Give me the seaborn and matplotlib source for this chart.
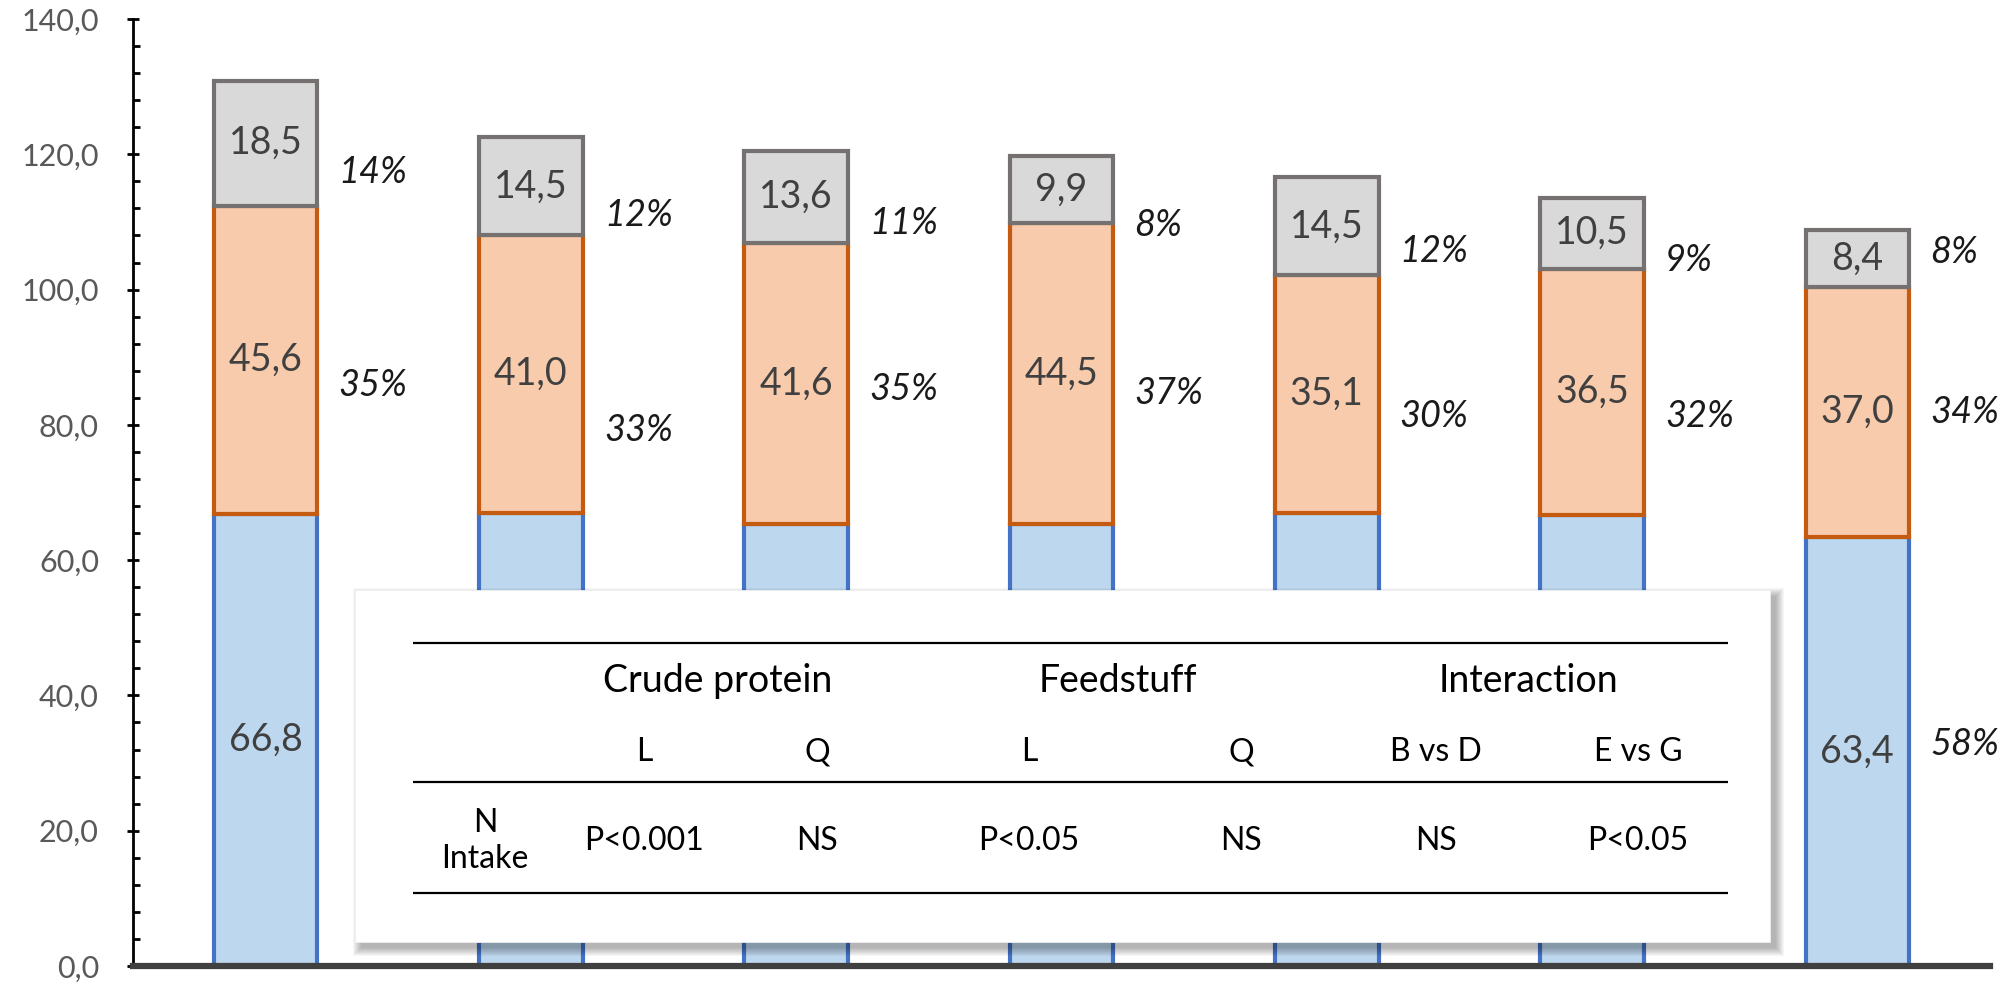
import matplotlib
matplotlib.use('Agg')
import matplotlib.pyplot as plt
from matplotlib.patches import Rectangle
from matplotlib.ticker import MultipleLocator, FuncFormatter
import numpy as np
import pandas as pd
import seaborn as sns

# data
treatments = ['A', 'B', 'C', 'D', 'E', 'F', 'G']
n_bottom = [66.8, 67.0, 65.3, 65.3, 67.0, 66.6, 63.4]
n_middle = [45.6, 41.0, 41.6, 44.5, 35.1, 36.5, 37.0]
n_top = [18.5, 14.5, 13.6, 9.9, 14.5, 10.5, 8.4]

# heights (in y units) where the share labels sit; None = not shown (under the table)
pct_y_bottom = [None, None, None, None, None, None, 32.8]
pct_y_middle = [85.8, 79.2, 85.3, 84.7, 81.2, 81.2, 81.8]
pct_y_top = [117.3, 111.0, 109.7, 109.4, 105.7, 104.3, 105.5]
# value labels of the bottom segments that are not hidden by the table
show_bottom_value = [True, False, False, False, False, False, True]

# stats table
table_groups = ['Crude protein', 'Feedstuff', 'Interaction']
table_contrasts = ['L', 'Q', 'L', 'Q', 'B vs D', 'E vs G']
table_row_label = 'N\nIntake'
table_pvalues = ['P<0.001', 'NS', 'P<0.05', 'NS', 'NS', 'P<0.05']

sns.set_theme(style='white')
plt.rcParams['font.family'] = ['Lato', 'DejaVu Sans']

fig = plt.figure(figsize=(20.1, 9.84), dpi=100)
ax = fig.add_axes([133 / 2010, 18 / 984, (1990 - 133) / 2010, 947 / 984])

df = pd.DataFrame({'treatment': treatments, 'bottom': n_bottom,
                   'middle': n_middle, 'top': n_top})
layers = [('bottom', '#BDD7EE', '#4472C4'),
          ('middle', '#F8CBAD', '#C55A11'),
          ('top', '#D9D9D9', '#767171')]

base = np.zeros(len(treatments))
for col, fill, edge in layers:
    sns.barplot(data=df, x='treatment', y=col, order=treatments, bottom=base.copy(),
                color=fill, saturation=1, edgecolor=edge, linewidth=3,
                width=0.39, errorbar=None, ax=ax)
    base += df[col].values
totals = base

# value labels inside segments and share labels to the right
pct_heights = {'bottom': pct_y_bottom, 'middle': pct_y_middle, 'top': pct_y_top}
lower = np.zeros(len(treatments))
for col, _, _ in layers:
    vals = df[col].values
    for i, v in enumerate(vals):
        if col != 'bottom' or show_bottom_value[i]:
            ax.text(i, lower[i] + v / 2, f'{v:.1f}'.replace('.', ','), ha='center',
                    va='center', fontsize=27, color='#404040')
        if pct_heights[col][i] is not None:
            ax.text(i + 0.275, pct_heights[col][i], f'{v / totals[i] * 100:.0f}%',
                    ha='left', va='center', fontsize=26, style='italic', color='#1a1a1a')
    lower += vals

ax.set_xlim(-0.5, len(treatments) - 0.5)
ax.set_ylim(0, 140)
ax.set_xlabel('')
ax.set_ylabel('')
ax.set_xticks([])
ax.yaxis.set_major_locator(MultipleLocator(20))
ax.yaxis.set_minor_locator(MultipleLocator(4))
ax.yaxis.set_major_formatter(FuncFormatter(lambda v, p: f'{v:.1f}'.replace('.', ',')))
ax.tick_params(axis='y', which='major', direction='inout', length=9, width=2,
               color='black', labelsize=22, labelcolor='#595959', pad=20, left=True)
ax.tick_params(axis='y', which='minor', direction='in', length=5, width=2,
               color='black', left=True)
for s in ['top', 'right']:
    ax.spines[s].set_visible(False)
ax.spines['left'].set_color('black')
ax.spines['left'].set_linewidth(2)
ax.spines['bottom'].set_color('#404040')
ax.spines['bottom'].set_linewidth(4.5)

# overlay for the stats table, in pixel coordinates
ov = fig.add_axes([0, 0, 1, 1], zorder=3)
ov.set_xlim(0, 2010)
ov.set_ylim(984, 0)
ov.axis('off')
ov.patch.set_alpha(0)

bx, by, bw, bh = 355, 590, 1415, 352
for k in range(9):
    ov.add_patch(Rectangle((bx + 6 - k, by + 6 - k), bw + 2 * k, bh + 2 * k,
                           facecolor='black', edgecolor='none', alpha=0.035))
ov.add_patch(Rectangle((bx, by), bw, bh, facecolor='white', edgecolor='#eeeeee', lw=0.6))

for yy in [643, 782, 893]:
    ov.plot([413, 1728], [yy, yy], color='black', lw=1.6, solid_capstyle='butt')

group_x = [718, 1118, 1528]
col_x = [644, 817, 1029, 1241, 1436, 1638]
for gx, g in zip(group_x, table_groups):
    ov.text(gx, 681, g, ha='center', va='center', fontsize=27, color='black')
for cx, c in zip(col_x, table_contrasts):
    ov.text(cx, 752, c, ha='center', va='center', fontsize=23, color='black')
ov.text(485, 841, table_row_label, ha='center', va='center', fontsize=23, color='black',
        linespacing=1.25)
for cx, p in zip(col_x, table_pvalues):
    ov.text(cx, 841, p, ha='center', va='center', fontsize=23, color='black')

fig.savefig('out.png', dpi=100)
